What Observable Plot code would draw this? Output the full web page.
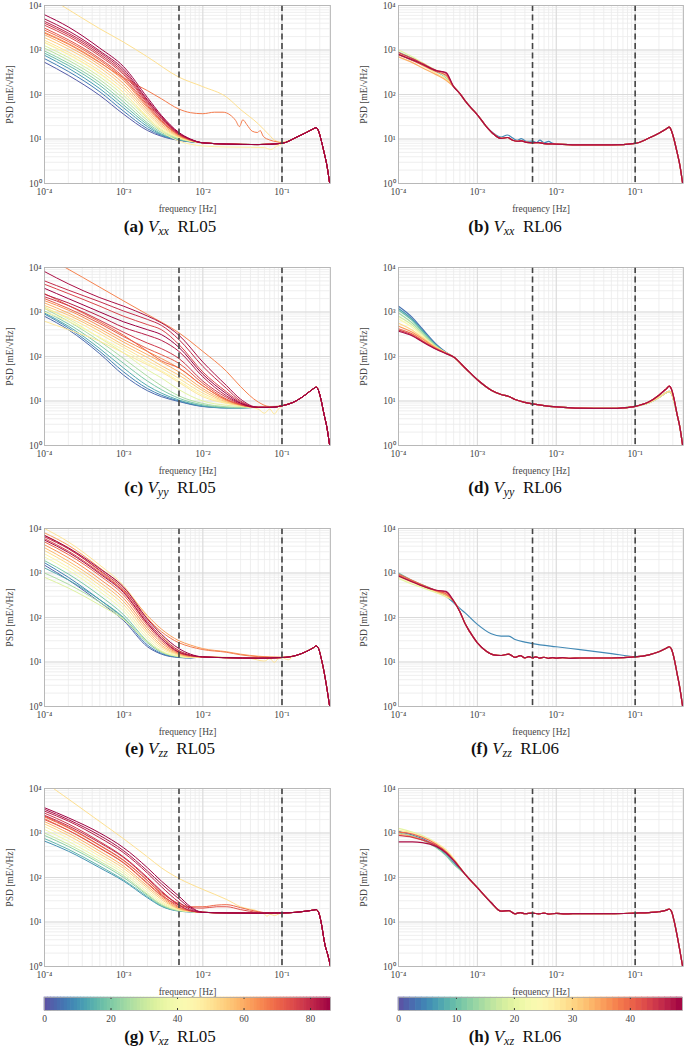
<!DOCTYPE html>
<html><head><meta charset="utf-8">
<script src="https://cdn.jsdelivr.net/npm/d3@7"></script>
<script src="https://cdn.jsdelivr.net/npm/@observablehq/plot@0.6"></script>
<style>
body{margin:0;background:#fff}
#wrap{position:relative;width:685px;height:1047px;overflow:hidden;font-family:"Liberation Serif",serif;background:#fff}
.p{position:absolute}
.cap{position:absolute;transform:translate(-50%,-50%);font-size:17px;white-space:nowrap;color:#111;line-height:1;font-family:"Liberation Serif",serif}
.cap sub{font-size:12px;vertical-align:-3px}
</style></head>
<body><div id="wrap"></div>
<script>
// ---------- frequency grids ----------
const F05 = [1e-4, 2e-4, 5e-4, 1e-3, 2e-3, 3e-3, 5e-3, 7e-3];
const F05c = [1e-4, 2e-4, 5e-4, 1e-3, 2e-3, 3e-3, 5e-3, 1e-2, 2e-2, 3e-2];
const F06 = [1e-4, 1.5e-4, 2e-4, 3e-4, 4e-4];
const F06h = [1e-4, 1.5e-4, 2e-4, 3e-4, 4e-4, 5e-4];
const xTicks = [1e-4, 1e-3, 1e-2, 1e-1];
const yTicks = [1, 10, 100, 1000, 10000];
const dashF = [5e-3, 0.1];
const cbTicks05 = [0, 20, 40, 60, 80];
const cbTicks06 = [0, 10, 20, 30, 40];

// ---------- (a) Vxx RL05 ----------
const vxx05 = [
 [2, 530, 270, 95, 36, 15.5, 11.5, 9.3, 8.6],
 [7, 640, 330, 115, 42, 17, 12, 9.5, 8.7],
 [12, 760, 390, 135, 50, 19, 12.5, 9.6, 8.7],
 [17, 850, 450, 160, 58, 21, 13, 9.8, 8.8],
 [22, 950, 510, 185, 68, 23, 14, 10, 8.8],
 [28, 1100, 590, 215, 80, 26, 15, 10.2, 8.9],
 [33, 1250, 680, 250, 95, 29, 16, 10.5, 9],
 [45, 1450, 790, 290, 110, 32, 17, 10.8, 9],
 [50, 1650, 900, 340, 130, 36, 18.5, 11, 9.1],
 [55, 1900, 1050, 400, 150, 40, 20, 11.3, 9.2],
 [60, 2200, 1200, 460, 175, 45, 22, 11.6, 9.3],
 [64, 2500, 1400, 530, 205, 50, 24, 12, 9.4],
 [70, 2800, 1550, 590, 225, 54, 25, 12.3, 9.5],
 [73, 3100, 1700, 640, 245, 58, 26, 12.5, 9.5],
 [76, 3600, 2000, 730, 280, 63, 28, 12.8, 9.6],
 [79, 4000, 2200, 800, 305, 67, 29, 13, 9.7],
 [81, 4400, 2400, 880, 335, 72, 31, 13.2, 9.7],
 [84, 5000, 2700, 950, 370, 76, 32, 13.5, 9.8],
 [86, 6200, 3300, 1100, 420, 85, 34, 14, 10]
];
const vxx05Tail = [[1e-2,8.2],[2e-2,7.7],[5e-2,7.5],[0.1,8],[0.15,10.8],[0.2,13.8],[0.25,17],[0.27,18],[0.29,15],[0.31,10],[0.34,5],[0.37,2.5],[0.4,1]];
const vxx05Out = [
 [51, [[1e-4,17400],[1.66e-4,10000],[5e-4,3000],[1e-3,1500],[2e-3,700],[5e-3,245],[1e-2,150],[2e-2,87],[3e-2,46],[5e-2,22],[7e-2,12],[8e-2,9.5],[0.1,8.5]]],
 [47, [[1e-4,1500],[2e-4,800],[5e-4,300],[1e-3,110],[2e-3,30],[3e-3,15],[5e-3,9],[7e-3,7.6],[1e-2,7],[2e-2,6.6],[4e-2,6.5],[6e-2,6.4],[7.2e-2,5.8],[8.5e-2,6.8],[0.1,7.8]]],
 [67, [[1e-4,2400],[2e-4,1350],[5e-4,520],[1e-3,236],[2e-3,122],[3e-3,80],[5e-3,47],[7e-3,39],[1e-2,37],[1.4e-2,40],[1.8e-2,40],[2.2e-2,35],[2.6e-2,26],[2.9e-2,19],[3.2e-2,27],[3.6e-2,21],[4.2e-2,15],[4.9e-2,14],[5.3e-2,15.5],[5.8e-2,11.5],[7e-2,9.5],[8.7e-2,8.6],[0.1,8.2]]]
];

// ---------- (b) Vxx RL06 ----------
const vxx06 = [
 [12, 900, 650, 500, 340, 245],
 [20, 1000, 700, 520, 345, 245],
 [28, 850, 600, 450, 300, 220],
 [34, 700, 520, 400, 280, 210],
 [40, 780, 580, 460, 330, 270],
 [44, 880, 640, 500, 350, 300],
 [48, 800, 600, 480, 345, 310]
];
const vxx06Tail = [[5e-4,150],[6e-4,105],[7e-4,72],[8e-4,54],[1e-3,35],[1.3e-3,19],[1.6e-3,13],[2e-3,10.3],[2.4e-3,10.8],[2.8e-3,9.4],[3.2e-3,8.9],[3.6e-3,9.1],[4.2e-3,8.4],[5e-3,8.2],[6e-3,8.3],[7e-3,7.9],[1e-2,7.7],[2e-2,7.4],[5e-2,7.4],[0.1,8],[0.15,10.5],[0.2,13.5],[0.25,17],[0.27,18.5],[0.29,15],[0.31,10],[0.34,5],[0.37,2.5],[0.4,1]];
const vxx06Out = [
 [5, [[1e-4,800],[1.5e-4,590],[2e-4,470],[3e-4,330],[4e-4,240],[5e-4,150],[6e-4,105],[7e-4,72],[1e-3,35],[1.3e-3,19],[1.6e-3,13.5],[2e-3,11],[2.4e-3,12.3],[2.8e-3,10.5],[3.2e-3,9.3],[3.6e-3,10.2],[4.2e-3,8.8],[5e-3,9],[5.6e-3,8.3],[6.2e-3,9.4],[7e-3,8.2],[8e-3,8.8],[9e-3,8],[1e-2,7.8]]]
];

// ---------- (c) Vyy RL05 ----------
const vyy05 = [
 [4, 800, 400, 115, 38, 17, 12.5, 9.7, 7.5, 7, 7],
 [8, 900, 440, 130, 45, 19, 13.5, 10, 7.6, 7, 7],
 [14, 950, 480, 150, 55, 22, 15, 10.5, 7.8, 7, 7],
 [20, 1050, 540, 180, 70, 28, 18, 11.5, 8.2, 7.2, 7],
 [26, 1200, 620, 220, 90, 36, 22, 13, 8.8, 7.4, 7.2],
 [35, 1300, 700, 260, 120, 50, 33, 18, 10, 8, 7.5],
 [45, 1000, 620, 270, 140, 70, 48, 28, 13.5, 9, 7.8],
 [50, 1200, 750, 320, 160, 80, 55, 32, 15, 9.2, 7.9],
 [56, 1400, 850, 370, 180, 95, 62, 38, 17, 9.5, 8],
 [60, 1600, 950, 420, 210, 110, 75, 45, 19, 10, 8],
 [64, 1800, 1100, 480, 240, 130, 90, 55, 22, 10.5, 8.2],
 [70, 2600, 1400, 600, 300, 130, 80, 55, 22, 10.5, 8.2],
 [72, 2000, 1200, 550, 280, 150, 110, 70, 25, 11, 8.3],
 [78, 2200, 1400, 650, 350, 200, 150, 90, 28, 12, 8.5],
 [82, 2500, 1600, 800, 450, 300, 230, 130, 35, 13, 8.8],
 [86, 3400, 2000, 1000, 600, 400, 310, 160, 40, 14.5, 9],
 [76, 4200, 2600, 1350, 800, 520, 400, 185, 45, 16, 9.5],
 [80, 5000, 3100, 1700, 1050, 680, 500, 240, 60, 19, 10],
 [84, 8100, 4300, 2100, 1350, 810, 570, 300, 75, 22, 11]
];
const vyy05Tail = [[5e-2,7.2],[7e-2,7.2],[0.1,7.8],[0.15,10],[0.2,14],[0.25,19],[0.27,20.5],[0.29,17],[0.31,11],[0.34,5],[0.37,2.5],[0.4,1]];
const vyy05Out = [
 [49, [[1e-4,620],[2e-4,400],[5e-4,220],[1e-3,120],[2e-3,65],[3e-3,45],[5e-3,26],[1e-2,12.5],[2e-2,8.8],[3e-2,7.8],[5e-2,6.6],[6e-2,5.3],[7e-2,6.6],[8e-2,5.1],[9e-2,6.6],[0.1,7.6]]],
 [66, [[1e-4,18000],[1.83e-4,10000],[5e-4,3600],[1e-3,1770],[2e-3,880],[5e-3,340],[1e-2,130],[2e-2,46],[3e-2,21],[5e-2,9.5],[7e-2,7.5]]]
];

// ---------- (d) Vyy RL06 ----------
const vyy06Lo = [
 [3, 1350, 750, 420, 190, 125],
 [6, 1200, 680, 390, 180, 122],
 [10, 1100, 640, 370, 175, 120],
 [14, 950, 560, 340, 170, 120],
 [18, 800, 500, 310, 165, 120],
 [24, 700, 450, 290, 160, 120],
 [30, 560, 390, 270, 160, 122]
];
const vyy06Hi = [
 [36, 480, 350, 250, 155, 120],
 [40, 420, 320, 230, 150, 118],
 [44, 390, 300, 220, 148, 118],
 [48, 370, 290, 215, 145, 116]
];
const vyy06Mid = [[5e-4,97],[7e-4,55],[1e-3,30],[1.5e-3,17.5],[2e-3,14],[2.5e-3,12.6],[3e-3,10.8],[4e-3,9.3],[5e-3,8.6],[7e-3,7.9],[1e-2,7.4],[3e-2,6.8],[5e-2,6.8],[7e-2,7],[0.1,7.6]];
const vyy06PeakLo = [[0.15,9.2],[0.2,12],[0.25,15.5],[0.27,16.5],[0.29,14.5],[0.31,10],[0.34,5],[0.37,2.5],[0.4,1]];
const vyy06PeakHi = [[0.15,9.6],[0.2,13.5],[0.25,19],[0.27,21.5],[0.29,18],[0.31,11.5],[0.34,5],[0.37,2.5],[0.4,1]];

// ---------- (e) Vzz RL05 ----------
const vzz05 = [
 [3, 1500, 700, 220, 85, 22, 15, 12.6, 12.3],
 [8, 1700, 800, 250, 95, 24, 15.5, 12.8, 12.4],
 [14, 1300, 700, 250, 100, 27, 16.5, 13, 12.5],
 [20, 1900, 950, 310, 115, 29, 17, 13.2, 12.6],
 [26, 1000, 560, 220, 95, 28, 17, 13.3, 12.6],
 [34, 800, 460, 190, 90, 28, 17, 13.3, 12.6],
 [40, 2300, 1150, 380, 140, 33, 18, 13.5, 12.7],
 [46, 2700, 1350, 450, 165, 38, 20, 14, 12.8],
 [52, 3200, 1600, 530, 195, 44, 22, 14.5, 13],
 [58, 3700, 1850, 620, 230, 50, 24, 15, 13.2],
 [64, 4300, 2200, 730, 270, 57, 27, 15.5, 13.4],
 [70, 5000, 2600, 870, 320, 65, 30, 16, 13.6],
 [76, 5900, 3100, 1020, 380, 75, 34, 17, 14],
 [80, 6500, 3500, 1150, 430, 82, 37, 18, 14.3],
 [84, 5500, 2900, 960, 360, 72, 33, 16.5, 14],
 [86, 7000, 3700, 1250, 480, 92, 42, 20, 15]
];
const vzz05Tail = [[1e-2,13],[2e-2,12.5],[5e-2,12.2],[0.1,12.6],[0.15,14],[0.2,17],[0.25,21],[0.27,23],[0.29,20],[0.31,13],[0.34,6],[0.37,2.5],[0.4,1]];
const vzz05Out = [
 [50, [[1e-4,10000],[2e-4,5000],[5e-4,1500],[1e-3,520],[2e-3,100],[3e-3,40],[5e-3,18],[7e-3,14],[1e-2,13],[2e-2,12.8],[4e-2,12],[6e-2,10.5],[7e-2,12],[8e-2,9.8],[9e-2,12],[0.1,12.5],[0.12,11.2],[0.14,13.5]]],
 [62, [[1e-4,8000],[2e-4,4200],[5e-4,1300],[1e-3,470],[2e-3,110],[3e-3,55],[5e-3,30],[7e-3,24],[1e-2,20],[2e-2,17],[3e-2,15],[5e-2,13.5],[0.1,12.8]]],
 [67, [[1e-4,7000],[2e-4,3600],[5e-4,1100],[1e-3,400],[2e-3,95],[3e-3,48],[5e-3,27],[7e-3,22],[1e-2,19],[2e-2,16.5],[3e-2,14.5],[5e-2,13.2],[0.1,12.7]]]
];

// ---------- (f) Vzz RL06 ----------
const vzz06 = [
 [10, 1000, 680, 540, 400, 310],
 [20, 750, 560, 470, 360, 290],
 [28, 820, 610, 500, 380, 300],
 [34, 900, 650, 520, 390, 320],
 [40, 950, 680, 540, 400, 340],
 [44, 880, 640, 520, 410, 370],
 [48, 850, 630, 510, 410, 385]
];
const vzz06Tail = [[5e-4,235],[6e-4,135],[7e-4,72],[8e-4,48],[1e-3,27],[1.3e-3,17.5],[1.6e-3,14.5],[2e-3,14],[2.5e-3,15.1],[3e-3,12.7],[3.5e-3,13.9],[4e-3,12.4],[4.5e-3,13.2],[5e-3,12.4],[5.5e-3,13],[6.2e-3,12.2],[7e-3,12.8],[8e-3,12.1],[9e-3,12.6],[1e-2,12.2],[1.2e-2,12.5],[1.5e-2,12.1],[2e-2,12.3],[5e-2,12.3],[0.1,13],[0.15,14.5],[0.2,17],[0.25,20.5],[0.27,22],[0.29,19],[0.31,12.5],[0.34,5.5],[0.37,2.5],[0.4,1]];
const vzz06Out = [
 [5, [[1e-4,950],[1.5e-4,660],[2e-4,530],[3e-4,390],[4e-4,300],[5e-4,215],[6e-4,160],[7e-4,127],[1e-3,70],[1.5e-3,43],[2e-3,38],[2.5e-3,38],[3e-3,32],[4e-3,28],[5e-3,26],[1e-2,22],[2e-2,19],[5e-2,15.5],[0.1,13.3]]]
];

// ---------- (g) Vxz RL05 ----------
const vxz05 = [
 [10, 660, 390, 165, 83, 35, 22.5, 17.5, 16.8],
 [16, 750, 430, 180, 88, 37, 23, 17.8, 16.9],
 [22, 880, 500, 210, 100, 40, 24, 18, 17],
 [30, 1000, 560, 230, 110, 42, 25, 18, 17],
 [38, 1200, 650, 260, 125, 46, 27, 18.5, 17.2],
 [46, 1400, 760, 300, 140, 52, 29, 19, 17.3],
 [54, 1600, 880, 340, 160, 58, 32, 19.5, 17.4],
 [60, 1800, 1000, 390, 180, 64, 35, 20, 17.5],
 [66, 2100, 1150, 450, 210, 72, 38, 21, 17.6],
 [72, 2400, 1350, 530, 245, 85, 42, 22, 17.8],
 [78, 2800, 1600, 640, 290, 100, 50, 24, 18],
 [80, 2500, 1450, 600, 280, 95, 48, 24, 18],
 [82, 3100, 1850, 780, 360, 125, 62, 28, 19],
 [84, 3400, 2000, 880, 400, 140, 72, 33, 20.5],
 [86, 3700, 2200, 1000, 465, 165, 83, 38, 22]
];
const vxz05Tail = [[1e-2,16.5],[2e-2,16],[5e-2,15.8],[0.1,16],[0.15,16.5],[0.2,17.5],[0.25,18.5],[0.27,19],[0.29,16.5],[0.31,10.5],[0.35,3],[0.38,1.8],[0.41,1]];
const vxz05Out = [
 [51, [[1e-4,14000],[1.3e-4,10000],[2e-4,5800],[5e-4,1800],[1e-3,740],[2e-3,290],[3e-3,165],[5e-3,95],[1e-2,54],[2e-2,32],[3e-2,22],[5e-2,17.5],[6e-2,15],[6.5e-2,13.5],[7e-2,15],[8e-2,14],[0.1,16]]],
 [70, [[1e-4,2300],[2e-4,1300],[5e-4,520],[1e-3,240],[2e-3,85],[3e-3,45],[5e-3,26],[7e-3,22],[1e-2,22],[1.5e-2,24],[2e-2,24.5],[3e-2,21],[5e-2,17],[7e-2,16],[0.1,16]]],
 [74, [[1e-4,2000],[2e-4,1150],[5e-4,460],[1e-3,215],[2e-3,75],[3e-3,40],[5e-3,24],[7e-3,21],[1e-2,20.5],[1.5e-2,22],[2e-2,22],[3e-2,19],[5e-2,16.5],[0.1,16]]]
];

// ---------- (h) Vxz RL06 ----------
const vxz06 = [
 [4, 1100, 900, 750, 500, 330, 220],
 [12, 1000, 850, 700, 470, 310, 200],
 [20, 1270, 1050, 880, 600, 400, 260],
 [28, 1150, 1000, 830, 600, 420, 270],
 [34, 950, 830, 700, 520, 380, 250],
 [40, 1050, 950, 800, 560, 380, 250],
 [44, 880, 800, 700, 520, 360, 245],
 [48, 630, 630, 610, 500, 360, 240]
];
const vxz06Tail = [[7e-4,118],[1e-3,59],[1.5e-3,27],[2e-3,17.5],[2.5e-3,18],[3e-3,15.3],[3.5e-3,16.3],[4e-3,15.4],[5e-3,15.8],[6e-3,15.2],[7e-3,15.9],[8e-3,15.1],[1e-2,15.6],[1.3e-2,15.2],[2e-2,15.5],[5e-2,15.4],[0.1,15.9],[0.15,16.3],[0.2,17],[0.25,18.5],[0.27,19.6],[0.29,17],[0.31,11],[0.34,5],[0.37,2.2],[0.4,1]];

// ---------- helpers ----------
const SUP = {"-":"\u207B","0":"\u2070","1":"\u00B9","2":"\u00B2","3":"\u00B3","4":"\u2074"};
const sup = d => "10" + String(Math.round(Math.log10(d))).split("").map(c => SUP[c]).join("");

function rowsFrom(key, groups) {
  const rows = [];
  let n = 0;
  for (const g of groups) {
    for (const [id, ...vals] of (g.heads || [])) {
      const pts = g.freqs.map((f, j) => [f, vals[j]]).concat(g.shared);
      const k = key + (n++);
      for (const [f, v] of pts) rows.push({k, id, f, v});
    }
    for (const [id, pts0] of (g.out || [])) {
      const last = pts0[pts0.length - 1][0];
      const pts = pts0.concat(g.shared.filter(p => p[0] > last));
      const k = key + (n++);
      for (const [f, v] of pts) rows.push({k, id, f, v});
    }
  }
  return rows.sort((a, b) => a.id - b.id);
}

const minorX = d3.scaleLog().domain([1e-4, 0.41]).ticks();
const minorY = d3.scaleLog().domain([1, 1e4]).ticks();

const FONT = '"Liberation Serif",serif';

function panel(rows, cmax, right, sw) {
  return Plot.plot({
    width: right ? 342 : 340, height: 215,
    marginLeft: right ? 55 : 44, marginRight: right ? 2 : 10,
    marginTop: 5, marginBottom: 32,
    x: {type: "log", domain: [1e-4, 0.41]},
    y: {type: "log", domain: [1, 1e4]},
    color: {type: "linear", scheme: "spectral", reverse: true, domain: [0, cmax]},
    style: {fontFamily: FONT, fontSize: "9.5px", color: "#333", background: "transparent"},
    marks: [
      Plot.ruleX(minorX, {stroke: "#ebebeb", strokeWidth: 0.8}),
      Plot.ruleY(minorY, {stroke: "#ebebeb", strokeWidth: 0.8}),
      Plot.ruleX(xTicks, {stroke: "#d4d4d4", strokeWidth: 0.8}),
      Plot.ruleY(yTicks, {stroke: "#d4d4d4", strokeWidth: 0.8}),
      Plot.line(rows, {x: "f", y: "v", z: "k", stroke: "id", strokeWidth: sw, curve: "monotone-x", clip: true}),
      Plot.ruleX(dashF, {stroke: "#444", strokeWidth: 1.6, strokeDasharray: "6,3.5"}),
      Plot.frame({stroke: "#b0b0b0", strokeWidth: 0.8}),
      Plot.axisX(xTicks, {tickFormat: sup, tickSize: 0, tickPadding: 5, label: "frequency [Hz]", labelAnchor: "center", labelArrow: "none", labelOffset: 28, fill: "#444"}),
      Plot.axisY(yTicks, {tickFormat: sup, tickSize: 0, tickPadding: 3, label: "PSD [mE/\u221AHz]", labelAnchor: "center", labelArrow: "none", labelOffset: 38, fill: "#444"})
    ]
  });
}

function cbar(cmax, ticks, right) {
  const steps = d3.range(cmax);
  return Plot.plot({
    width: right ? 342 : 340, height: 40,
    marginLeft: right ? 55 : 44, marginRight: right ? 3 : 10,
    marginTop: 7, marginBottom: 20,
    x: {domain: [0, cmax]},
    y: {domain: [0, 1], axis: null},
    color: {type: "linear", scheme: "spectral", reverse: true, domain: [0, cmax]},
    style: {fontFamily: FONT, fontSize: "9.5px", color: "#333", background: "transparent"},
    marks: [
      Plot.rect(steps, {x1: d => d, x2: d => d + 1, y1: 0, y2: 1, fill: d => d + 0.5, inset: -0.3}),
      Plot.ruleX(ticks.slice(1), {y1: 0, y2: 0.15, stroke: "#333"}),
      Plot.ruleX(ticks.slice(1), {y1: 0.85, y2: 1, stroke: "#333"}),
      Plot.frame({stroke: "#aaa", strokeWidth: 0.8}),
      Plot.axisX(ticks, {tickSize: 0, tickPadding: 5, label: null, fill: "#444"})
    ]
  });
}

const wrap = document.getElementById("wrap");
function place(node, left, top) {
  const d = document.createElement("div");
  d.className = "p"; d.style.left = left + "px"; d.style.top = top + "px";
  d.appendChild(node); wrap.appendChild(d);
}
function caption(html, cx, cy) {
  const d = document.createElement("div");
  d.className = "cap"; d.style.left = cx + "px"; d.style.top = cy + "px";
  d.innerHTML = html; wrap.appendChild(d);
}

const rowTop = [0, 262, 523, 783];
const capY = [227, 488, 749, 1037];

const panels = [
  {rows: rowsFrom("a", [{freqs: F05, shared: vxx05Tail, heads: vxx05, out: vxx05Out}]), max: 86, right: false, row: 0, sw: 1,
   cap: "<b>(a)</b> <i>V</i><sub><i>xx</i></sub>&nbsp; RL05"},
  {rows: rowsFrom("b", [{freqs: F06, shared: vxx06Tail, heads: vxx06, out: vxx06Out}]), max: 49, right: true, row: 0, sw: 1.2,
   cap: "<b>(b)</b> <i>V</i><sub><i>xx</i></sub>&nbsp; RL06"},
  {rows: rowsFrom("c", [{freqs: F05c, shared: vyy05Tail, heads: vyy05, out: vyy05Out}]), max: 86, right: false, row: 1, sw: 1,
   cap: "<b>(c)</b> <i>V</i><sub><i>yy</i></sub>&nbsp; RL05"},
  {rows: rowsFrom("d", [{freqs: F06, shared: vyy06Mid.concat(vyy06PeakLo), heads: vyy06Lo},
                        {freqs: F06, shared: vyy06Mid.concat(vyy06PeakHi), heads: vyy06Hi}]), max: 49, right: true, row: 1, sw: 1.2,
   cap: "<b>(d)</b> <i>V</i><sub><i>yy</i></sub>&nbsp; RL06"},
  {rows: rowsFrom("e", [{freqs: F05, shared: vzz05Tail, heads: vzz05, out: vzz05Out}]), max: 86, right: false, row: 2, sw: 1,
   cap: "<b>(e)</b> <i>V</i><sub><i>zz</i></sub>&nbsp; RL05"},
  {rows: rowsFrom("f", [{freqs: F06, shared: vzz06Tail, heads: vzz06, out: vzz06Out}]), max: 49, right: true, row: 2, sw: 1.2,
   cap: "<b>(f)</b> <i>V</i><sub><i>zz</i></sub>&nbsp; RL06"},
  {rows: rowsFrom("g", [{freqs: F05, shared: vxz05Tail, heads: vxz05, out: vxz05Out}]), max: 86, right: false, row: 3, sw: 1,
   cap: "<b>(g)</b> <i>V</i><sub><i>xz</i></sub>&nbsp; RL05"},
  {rows: rowsFrom("h", [{freqs: F06h, shared: vxz06Tail, heads: vxz06}]), max: 49, right: true, row: 3, sw: 1.2,
   cap: "<b>(h)</b> <i>V</i><sub><i>xz</i></sub>&nbsp; RL06"}
];

for (const p of panels) {
  place(panel(p.rows, p.max, p.right, p.sw), p.right ? 343 : 0, rowTop[p.row]);
  caption(p.cap, p.right ? 515 : 170, capY[p.row]);
}
place(cbar(86, cbTicks05, false), 0, 990);
place(cbar(49, cbTicks06, true), 343, 990);
</script>
</body></html>
